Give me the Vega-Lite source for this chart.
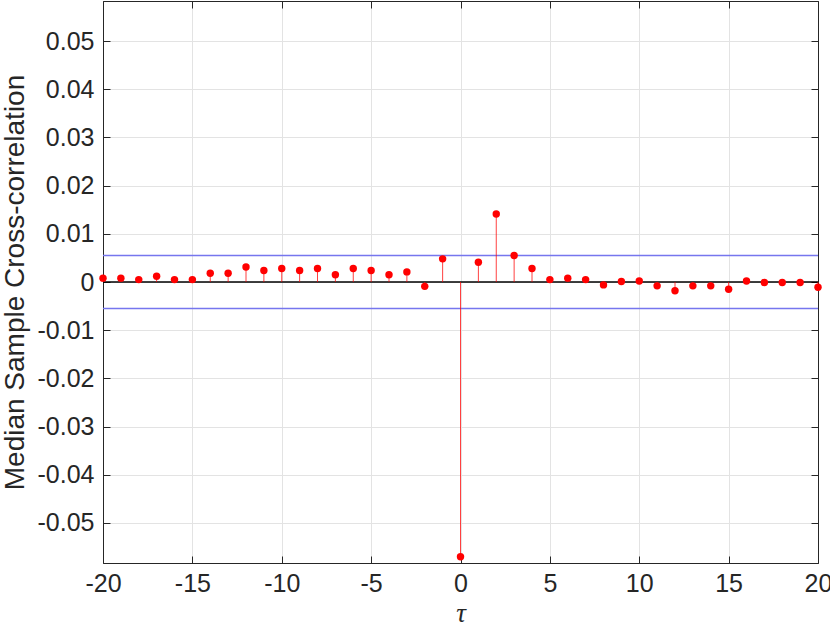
{
  "$schema": "https://vega.github.io/schema/vega-lite/v6.json",
  "width": 715,
  "height": 562,
  "autosize": "none",
  "padding": {"left": 103, "top": 1, "right": 12, "bottom": 66},
  "background": "white",
  "config": {
    "view": {"stroke": "#262626", "strokeWidth": 1},
    "font": "Liberation Sans"
  },
  "datasets": {
    "xc": [
      {"lag": -20, "r": 0.0008}, {"lag": -19, "r": 0.0008}, {"lag": -18, "r": 0.0005},
      {"lag": -17, "r": 0.0012}, {"lag": -16, "r": 0.0005}, {"lag": -15, "r": 0.0005},
      {"lag": -14, "r": 0.0018}, {"lag": -13, "r": 0.0018}, {"lag": -12, "r": 0.0031},
      {"lag": -11, "r": 0.0024}, {"lag": -10, "r": 0.0028}, {"lag": -9, "r": 0.0024},
      {"lag": -8, "r": 0.0028}, {"lag": -7, "r": 0.0015}, {"lag": -6, "r": 0.0028},
      {"lag": -5, "r": 0.0024}, {"lag": -4, "r": 0.0015}, {"lag": -3, "r": 0.0021},
      {"lag": -2, "r": -0.0009}, {"lag": -1, "r": 0.0048}, {"lag": 0, "r": -0.057},
      {"lag": 1, "r": 0.0041}, {"lag": 2, "r": 0.0141}, {"lag": 3, "r": 0.0055},
      {"lag": 4, "r": 0.0028}, {"lag": 5, "r": 0.0005}, {"lag": 6, "r": 0.0008},
      {"lag": 7, "r": 0.0005}, {"lag": 8, "r": -0.0006}, {"lag": 9, "r": 0.0001},
      {"lag": 10, "r": 0.0002}, {"lag": 11, "r": -0.0008}, {"lag": 12, "r": -0.0018},
      {"lag": 13, "r": -0.0008}, {"lag": 14, "r": -0.0008}, {"lag": 15, "r": -0.0015},
      {"lag": 16, "r": 0.0002}, {"lag": 17, "r": -0.0001}, {"lag": 18, "r": -0.0001},
      {"lag": 19, "r": -0.0001}, {"lag": 20, "r": -0.0011}
    ],
    "bounds": [{"b": 0.0055}, {"b": -0.0055}],
    "zero": [{"z": 0}]
  },
  "resolve": {"scale": {"x": "shared", "y": "shared"}, "axis": {"x": "independent", "y": "independent"}},
  "layer": [
    {
      "data": {"name": "xc"},
      "mark": {"type": "point", "opacity": 0},
      "encoding": {
        "x": {"field": "lag", "type": "quantitative",
          "scale": {"domain": [-20, 20], "nice": false, "zero": false},
          "axis": {"orient": "bottom", "values": [-20,-15,-10,-5,0,5,10,15,20],
            "title": "τ", "titleFont": "Liberation Serif", "titleFontStyle": "italic", "titleFontWeight": "normal",
            "titleFontSize": 27, "titleColor": "#262626", "titlePadding": 4,
            "labelFontSize": 25, "labelColor": "#262626", "labelPadding": 15,
            "labelExpr": "datum.value < 0 ? '-' + format(-datum.value, 'd') : format(datum.value, 'd')",
            "tickSize": -7, "tickColor": "#262626", "domainColor": "#262626",
            "grid": true, "gridColor": "#e3e3e3", "gridWidth": 1, "labelFlush": false, "zindex": 0}},
        "y": {"field": "r", "type": "quantitative",
          "scale": {"domain": [-0.0583, 0.0583], "nice": false, "zero": false},
          "axis": {"orient": "left", "values": [-0.05,-0.04,-0.03,-0.02,-0.01,0,0.01,0.02,0.03,0.04,0.05],
            "title": "Median Sample Cross-correlation", "titleFontSize": 28, "titleFontWeight": "normal",
            "titleColor": "#262626", "titlePadding": 8,
            "labelFontSize": 25, "labelColor": "#262626", "labelPadding": 16,
            "labelExpr": "datum.value < 0 ? '-' + format(-datum.value, '.2~f') : format(datum.value, '.2~f')",
            "tickSize": -7, "tickColor": "#262626", "domainColor": "#262626",
            "grid": true, "gridColor": "#e3e3e3", "gridWidth": 1, "labelFlush": false, "zindex": 0}}
      }
    },
    {
      "data": {"name": "xc"},
      "mark": {"type": "point", "opacity": 0},
      "encoding": {
        "x": {"field": "lag", "type": "quantitative",
          "axis": {"orient": "top", "values": [-20,-15,-10,-5,0,5,10,15,20], "labels": false, "title": null,
            "tickSize": -7, "tickColor": "#262626", "domainColor": "#262626", "grid": false}},
        "y": {"field": "r", "type": "quantitative",
          "axis": {"orient": "right", "values": [-0.05,-0.04,-0.03,-0.02,-0.01,0,0.01,0.02,0.03,0.04,0.05],
            "labels": false, "title": null,
            "tickSize": -7, "tickColor": "#262626", "domainColor": "#262626", "grid": false}}
      }
    },
    {
      "data": {"name": "zero"},
      "mark": {"type": "rule", "color": "#000000", "strokeWidth": 1.5},
      "encoding": {"y": {"field": "z", "type": "quantitative", "axis": null}}
    },
    {
      "data": {"name": "bounds"},
      "mark": {"type": "rule", "color": "#7676ee", "strokeWidth": 1.5},
      "encoding": {"y": {"field": "b", "type": "quantitative", "axis": null}}
    },
    {
      "data": {"name": "xc"},
      "mark": {"type": "rule", "color": "#ff0000", "strokeWidth": 1, "opacity": 0.75},
      "encoding": {
        "x": {"field": "lag", "type": "quantitative", "axis": null},
        "y": {"field": "r", "type": "quantitative", "axis": null},
        "y2": {"datum": 0}
      }
    },
    {
      "data": {"name": "xc"},
      "mark": {"type": "circle", "color": "#ff0000", "opacity": 1, "size": 55, "clip": false},
      "encoding": {
        "x": {"field": "lag", "type": "quantitative", "axis": null},
        "y": {"field": "r", "type": "quantitative", "axis": null}
      }
    }
  ]
}
